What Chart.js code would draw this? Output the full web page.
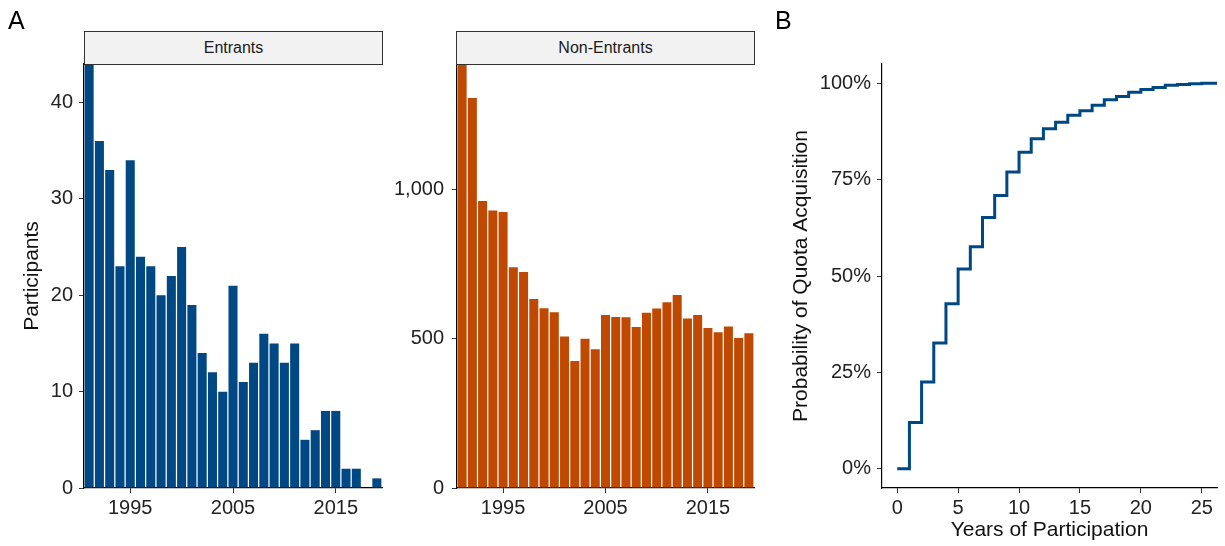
<!DOCTYPE html>
<html>
<head>
<meta charset="utf-8">
<script src="https://cdn.jsdelivr.net/npm/chart.js@4.4.0/dist/chart.umd.min.js"></script>
<style>
  body { margin: 0; background: #fff; font-family: "Liberation Sans", Arial, sans-serif; }
  #wrap { position: relative; width: 1225px; height: 546px; overflow: hidden; }
  canvas { position: absolute; top: 0; }
  .strip { position: absolute; top: 31px; height: 34px; box-sizing: border-box; border: 1px solid #333;
           background: #f2f2f2; color: #1a1a1a; font-size: 16px; line-height: 32px; text-align: center; }
  .tag { position: absolute; font-size: 25px; line-height: 25px; color: #000; }
</style>
</head>
<body>
<div id="wrap">
  <canvas id="entrants" width="400" height="546" style="left:0"></canvas>
  <canvas id="nonEntrants" width="390" height="546" style="left:380px"></canvas>
  <canvas id="quota" width="445" height="546" style="left:780px"></canvas>
  <div class="strip" style="left:84px;width:299px">Entrants</div>
  <div class="strip" style="left:456px;width:299px">Non-Entrants</div>
  <div class="tag" style="left:8px;top:8px">A</div>
  <div class="tag" style="left:775px;top:8px">B</div>
</div>
<script>
// data
const years = [1991, 1992, 1993, 1994, 1995, 1996, 1997, 1998, 1999, 2000,
               2001, 2002, 2003, 2004, 2005, 2006, 2007, 2008, 2009, 2010,
               2011, 2012, 2013, 2014, 2015, 2016, 2017, 2018, 2019];
const entrants = [44, 36, 33, 23, 34, 24, 23, 20, 22, 25,
                  19, 14, 12, 10, 21, 11, 13, 16, 15, 13,
                  15, 5, 6, 8, 8, 2, 2, 0, 1];
const nonEntrants = [1420, 1306, 961, 929, 924, 739, 723, 633, 602, 589,
                     507, 425, 500, 465, 579, 573, 572, 539, 587, 601,
                     622, 646, 568, 579, 536, 522, 541, 502, 518];
const yearTicks = [1995, 2005, 2015];
const entrantTicks = [0, 10, 20, 30, 40];
const nonEntrantTicks = [0, 500, 1000];

const participationYears = [0, 1, 2, 3, 4, 5, 6, 7, 8, 9, 10, 11, 12, 13,
                            14, 15, 16, 17, 18, 19, 20, 21, 22, 23, 24, 25, 26, 27];
const quotaProb = [0, 0.120, 0.225, 0.326, 0.428, 0.518, 0.576, 0.652, 0.709, 0.770,
                   0.821, 0.856, 0.882, 0.899, 0.917, 0.929, 0.943, 0.957, 0.966, 0.977,
                   0.984, 0.989, 0.995, 0.997, 0.999, 1.0, 1.0, 1.0];
const participationTicks = [0, 5, 10, 15, 20, 25];
const probTicks = [0, 0.25, 0.5, 0.75, 1];

const BLUE = "#004884";
const ORANGE = "#bf4900";

Chart.defaults.font.family = '"Liberation Sans", Arial, sans-serif';
Chart.defaults.color = "#222";

function setTicks(values) {
  return scale => { scale.ticks = values.map(v => ({ value: v })); };
}

function axis(min, max, tickValues, fmt, size) {
  return {
    type: "linear",
    min: min,
    max: max,
    offset: false,
    afterBuildTicks: setTicks(tickValues),
    grid: { offset: false, drawOnChartArea: false, drawTicks: true, tickLength: 5, color: "#333" },
    border: { color: "#000", width: 1.2 },
    ticks: { font: { size: 20 }, color: "#222", padding: 5, autoSkip: false, maxRotation: 0, callback: fmt },
    afterFit: size
  };
}

function barChart(id, values, color, yMax, yTickValues, yWidth, rightPad, tickPad, yTitle) {
  const yAxis = axis(0, yMax, yTickValues, v => v.toLocaleString("en-US"), s => { s.width = yWidth; });
  yAxis.ticks.padding = tickPad;
  if (yTitle) {
    yAxis.title = { display: true, text: yTitle, color: "#111", font: { size: 21 }, padding: { top: 20, bottom: 0 } };
  }
  const xAxis = axis(1990.5, 2019.5, yearTicks, v => String(v), s => { s.height = 58; });
  xAxis.ticks.padding = 3;
  new Chart(document.getElementById(id), {
    type: "bar",
    data: {
      datasets: [{
        data: years.map((yr, i) => ({ x: yr, y: values[i] })),
        backgroundColor: color,
        borderWidth: 0,
        barPercentage: 0.88,
        categoryPercentage: 1
      }]
    },
    options: {
      responsive: false,
      animation: false,
      layout: { padding: { top: 64, right: rightPad, left: 0, bottom: 0 } },
      plugins: { legend: { display: false }, tooltip: { enabled: false } },
      scales: { x: xAxis, y: yAxis }
    }
  });
}

barChart("entrants", entrants, BLUE, 44, entrantTicks, 84, 18, 6, "Participants");
barChart("nonEntrants", nonEntrants, ORANGE, 1420, nonEntrantTicks, 77, 16, 8, null);

// panel B: step curve
const qx = axis(-1.25, 26.25, participationTicks, v => String(v), s => { s.height = 58; });
qx.ticks.padding = 3;
qx.title = { display: true, text: "Years of Participation", color: "#111", font: { size: 21 }, padding: { top: 0, bottom: 3 } };
const qy = axis(-0.05, 1.05, probTicks, v => Math.round(v * 100) + "%", s => { s.width = 102; });
qy.ticks.padding = 6;
qy.title = { display: true, text: "Probability of Quota Acquisition", color: "#111", font: { size: 21 }, padding: { top: 9, bottom: 0 } };

new Chart(document.getElementById("quota"), {
  type: "line",
  data: {
    datasets: [{
      data: participationYears.map((yr, i) => ({ x: yr, y: quotaProb[i] })),
      borderColor: BLUE,
      borderWidth: 3,
      stepped: "before",
      pointRadius: 0,
      fill: false
    }]
  },
  options: {
    responsive: false,
    animation: false,
    layout: { padding: { top: 64, right: 8, left: 0, bottom: 0 } },
    plugins: { legend: { display: false }, tooltip: { enabled: false } },
    scales: { x: qx, y: qy }
  }
});
</script>
</body>
</html>
